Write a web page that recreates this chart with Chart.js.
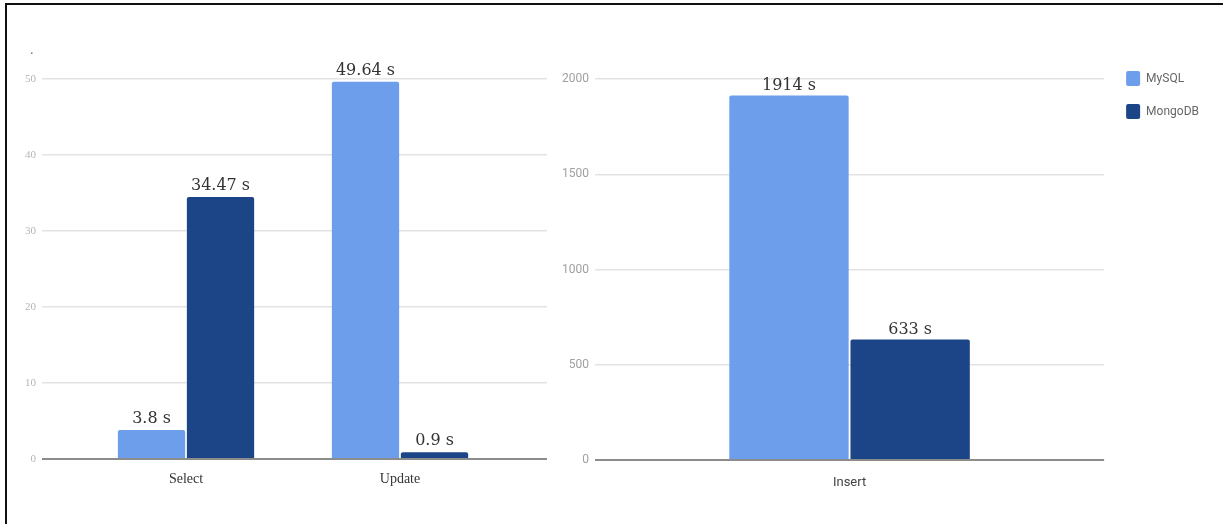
<!DOCTYPE html>
<html>
<head>
<meta charset="utf-8">
<script src="https://cdn.jsdelivr.net/npm/chart.js@4/dist/chart.umd.min.js"></script>
<style>
  html, body { margin:0; padding:0; background:#fff; width:1223px; height:524px; overflow:hidden; }
  #frame { position:absolute; left:5px; top:3px; width:1230px; height:540px; border-top:2px solid #111; border-left:2px solid #111; pointer-events:none; }
  #c1 { position:absolute; left:0; top:0; }
  #c2 { position:absolute; left:555px; top:0; }
  #dot { position:absolute; left:30px; top:42px; font:14px "Liberation Serif", serif; color:#777; }
</style>
</head>
<body>
<canvas id="c1" width="555" height="524"></canvas>
<canvas id="c2" width="668" height="524"></canvas>
<div id="frame"></div>
<div id="dot">.</div>
<script>
// ---- data ----
const seriesNames = ['MySQL', 'MongoDB'];
const leftCategories = ['Select', 'Update'];
const mysqlLeft = [3.8, 49.64];
const mongoLeft = [34.47, 0.9];
const rightCategories = ['Insert'];
const mysqlRight = [1914];
const mongoRight = [633];
const leftTicks = [0, 10, 20, 30, 40, 50];
const rightTicks = [0, 500, 1000, 1500, 2000];
const valueUnit = ' s';

// ---- styles ----
const COLOR_MYSQL = '#6d9eeb';
const COLOR_MONGO = '#1c4587';
const GRID = '#e3e3e3';
const BASE = '#8c8c8c';

const valueLabels = {
  id: 'valueLabels',
  afterDatasetsDraw(chart, args, opts) {
    const ctx = chart.ctx;
    ctx.save();
    ctx.font = opts.font;
    ctx.fillStyle = opts.color;
    ctx.textAlign = 'center';
    ctx.textBaseline = 'alphabetic';
    chart.data.datasets.forEach((ds, di) => {
      const meta = chart.getDatasetMeta(di);
      meta.data.forEach((bar, i) => {
        const d = ds.data[i];
        const v = (d !== null && typeof d === 'object') ? d.y : d;
        ctx.fillText(v + valueUnit, bar.x, bar.y - opts.gap);
      });
    });
    ctx.restore();
  }
};

const legendShift = {
  id: 'legendShift',
  afterLayout(chart, args, opts) {
    const l = chart.legend;
    if (!l) return;
    l.left += opts.dx; l.right += opts.dx;
    l.top += opts.dy; l.bottom += opts.dy;
  }
};

function gridColor(ctx) { return ctx.tick && ctx.tick.value === 0 ? BASE : GRID; }
function gridWidth(ctx) { return ctx.tick && ctx.tick.value === 0 ? 2 : 1.5; }

// ---- left chart (Select / Update) ----
new Chart(document.getElementById('c1'), {
  type: 'bar',
  data: {
    datasets: [
      { label: seriesNames[0], data: mysqlLeft.map((v, i) => ({ x: i, y: v })), backgroundColor: COLOR_MYSQL, borderWidth: 0, borderRadius: { topLeft: 2, topRight: 2 }, borderSkipped: 'bottom' },
      { label: seriesNames[1], data: mongoLeft.map((v, i) => ({ x: i, y: v })), backgroundColor: COLOR_MONGO, borderWidth: 0, borderRadius: { topLeft: 2, topRight: 2 }, borderSkipped: 'bottom' }
    ]
  },
  options: {
    responsive: false,
    animation: false,
    categoryPercentage: 0.645,
    barPercentage: 0.975,
    layout: { padding: { left: 0, top: 79, right: 8, bottom: 0 } },
    scales: {
      x: {
        type: 'linear',
        offset: false,
        min: -0.673,
        max: 1.687,
        afterBuildTicks: (scale) => { scale.ticks = leftCategories.map((c, i) => ({ value: i })); },
        afterFit: (scale) => { scale.height = 65; },
        grid: { display: false },
        border: { display: false },
        ticks: {
          callback: (v) => leftCategories[v],
          color: '#333',
          padding: 4,
          maxRotation: 0,
          font: { family: '"Liberation Serif", serif', size: 14 }
        }
      },
      y: {
        min: 0,
        max: 50,
        afterBuildTicks: (scale) => { scale.ticks = leftTicks.map(v => ({ value: v })); },
        afterFit: (scale) => { scale.width = 42; },
        border: { display: false },
        grid: { color: gridColor, lineWidth: gridWidth, drawTicks: false },
        ticks: {
          color: '#b5b5b5',
          padding: 6,
          font: { family: '"Liberation Serif", serif', size: 11 }
        }
      }
    },
    plugins: {
      legend: { display: false },
      tooltip: { enabled: false },
      valueLabels: { font: '16px "DejaVu Serif", serif', color: '#333', gap: 7 }
    }
  },
  plugins: [valueLabels]
});

// ---- right chart (Insert) ----
new Chart(document.getElementById('c2'), {
  type: 'bar',
  data: {
    labels: rightCategories,
    datasets: [
      { label: seriesNames[0], data: mysqlRight, backgroundColor: COLOR_MYSQL, borderWidth: 0, borderRadius: { topLeft: 2, topRight: 2 }, borderSkipped: 'bottom' },
      { label: seriesNames[1], data: mongoRight, backgroundColor: COLOR_MONGO, borderWidth: 0, borderRadius: { topLeft: 2, topRight: 2 }, borderSkipped: 'bottom' }
    ]
  },
  options: {
    responsive: false,
    animation: false,
    categoryPercentage: 0.476,
    barPercentage: 0.985,
    layout: { padding: { left: 0, top: 79, right: 18, bottom: 0 } },
    scales: {
      x: {
        afterFit: (scale) => { scale.height = 64; },
        grid: { display: false },
        border: { display: false },
        ticks: {
          color: '#444',
          padding: 7,
          font: { family: 'Roboto, sans-serif', size: 13 }
        }
      },
      y: {
        min: 0,
        max: 2000,
        afterBuildTicks: (scale) => { scale.ticks = rightTicks.map(v => ({ value: v })); },
        afterFit: (scale) => { scale.width = 40; },
        border: { display: false },
        grid: { color: gridColor, lineWidth: gridWidth, drawTicks: false },
        ticks: {
          callback: (v) => String(v),
          color: '#a0a0a0',
          padding: 6,
          font: { family: 'Roboto, sans-serif', size: 12 }
        }
      }
    },
    plugins: {
      legend: {
        position: 'right',
        align: 'start',
        labels: {
          boxWidth: 14,
          boxHeight: 15,
          padding: 18,
          color: '#666',
          useBorderRadius: true,
          borderRadius: 2,
          font: { family: 'Roboto, sans-serif', size: 12 }
        }
      },
      legendShift: { dx: 4, dy: -26 },
      tooltip: { enabled: false },
      valueLabels: { font: '16px "DejaVu Serif", serif', color: '#333', gap: 5 }
    }
  },
  plugins: [valueLabels, legendShift]
});
</script>
</body>
</html>
